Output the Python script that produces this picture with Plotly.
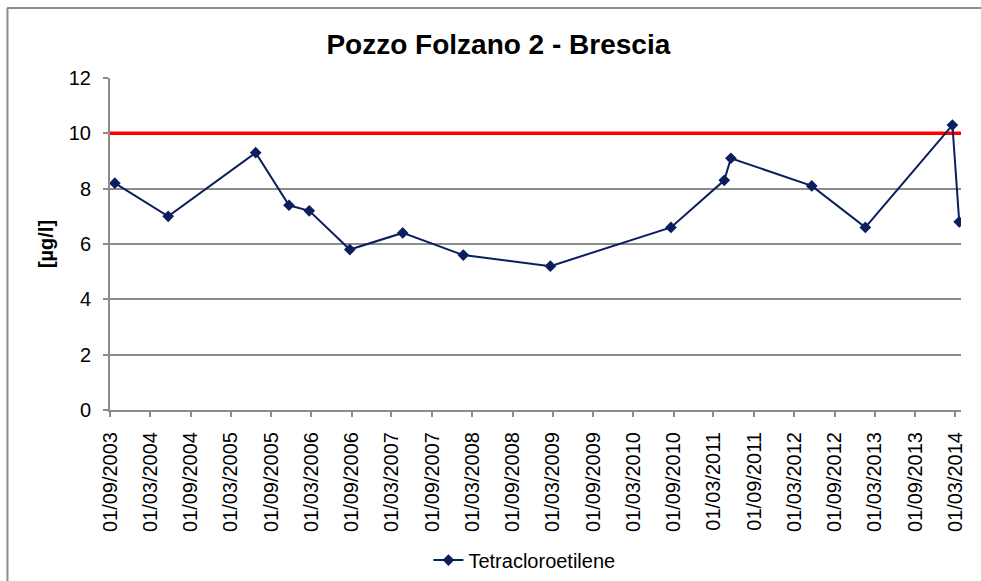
import plotly.graph_objects as go

# ---- data ----
DATES = ["2003-09-23", "2004-05-22", "2005-06-23", "2005-11-21", "2006-02-21",
         "2006-08-24", "2007-04-21", "2008-01-21", "2009-02-19", "2010-08-20",
         "2011-04-19", "2011-05-19", "2012-05-20", "2013-01-18", "2014-02-17",
         "2014-03-20"]
VALUES = [8.2, 7.0, 9.3, 7.4, 7.2, 5.8, 6.4, 5.6, 5.2, 6.6, 8.3, 9.1, 8.1, 6.6, 10.3, 6.8]
SERIES_NAME = "Tetracloroetilene"
LIMIT = 10
X_START = "2003-09-01"
X_END = "2014-03-28"
TITLE = "Pozzo Folzano 2 - Brescia"
Y_TITLE = "[µg/l]"

FONT = "Liberation Sans, Arial, sans-serif"
GRID = "#8c8c8c"
NAVY = "#0b1f5e"

fig = go.Figure()

# limit line
fig.add_trace(go.Scatter(
    x=[X_START, X_END], y=[LIMIT, LIMIT], mode="lines",
    line=dict(color="#ff0000", width=3.5), showlegend=False, hoverinfo="skip"))

fig.add_trace(go.Scatter(
    x=DATES, y=VALUES, mode="lines+markers", name=SERIES_NAME,
    line=dict(color=NAVY, width=2),
    marker=dict(symbol="diamond", size=9, color=NAVY)))

# chart-area frame (only top and left edges fall inside the picture)
frame = [
    dict(type="line", xref="paper", yref="paper", x0=-0.121, x1=1.03, y0=1.2105, y1=1.2105,
         line=dict(color=GRID, width=2)),
    dict(type="line", xref="paper", yref="paper", x0=-0.1205, x1=-0.1205, y0=-0.6, y1=1.2105,
         line=dict(color=GRID, width=2)),
]

fig.update_layout(
    width=981, height=581,
    margin=dict(l=110, r=20, t=78, b=171, autoexpand=False),
    paper_bgcolor="white", plot_bgcolor="white",
    font=dict(family=FONT, size=20, color="black"),
    title=dict(text="<b>" + TITLE + "</b>", x=0.508, xref="container", xanchor="center",
               y=1 - 44 / 581, yref="container", yanchor="middle",
               font=dict(family=FONT, size=28, color="black")),
    showlegend=True,
    legend=dict(orientation="h", x=0.487, xanchor="center", y=-0.452, yanchor="middle",
                font=dict(family=FONT, size=20, color="black"), bgcolor="rgba(0,0,0,0)"),
    xaxis=dict(type="date", range=[X_START, X_END], tick0=X_START, dtick="M6",
               tickformat="%d/%m/%Y", tickangle=-90, showgrid=False,
               showline=True, linecolor=GRID, linewidth=2,
               ticks="outside", ticklen=5, tickcolor=GRID, tickwidth=1.5,
               tickfont=dict(family=FONT, size=20, color="black"), zeroline=False,
               ticklabelstandoff=7),
    yaxis=dict(range=[0, 12], dtick=2, showgrid=True, gridcolor=GRID, gridwidth=1.5,
               showline=True, linecolor=GRID, linewidth=2, zeroline=False,
               ticks="outside", ticklen=5, tickcolor=GRID, tickwidth=1.5,
               tickfont=dict(family=FONT, size=20, color="black"),
               ticklabelstandoff=8,
               title=dict(text="<b>" + Y_TITLE + "</b>", standoff=10,
                          font=dict(family=FONT, size=20, color="black"))),
    shapes=frame,
)

fig.write_html("out.html", config={"displayModeBar": False},
               post_script="document.body.style.margin='0';document.body.style.overflow='hidden';")
